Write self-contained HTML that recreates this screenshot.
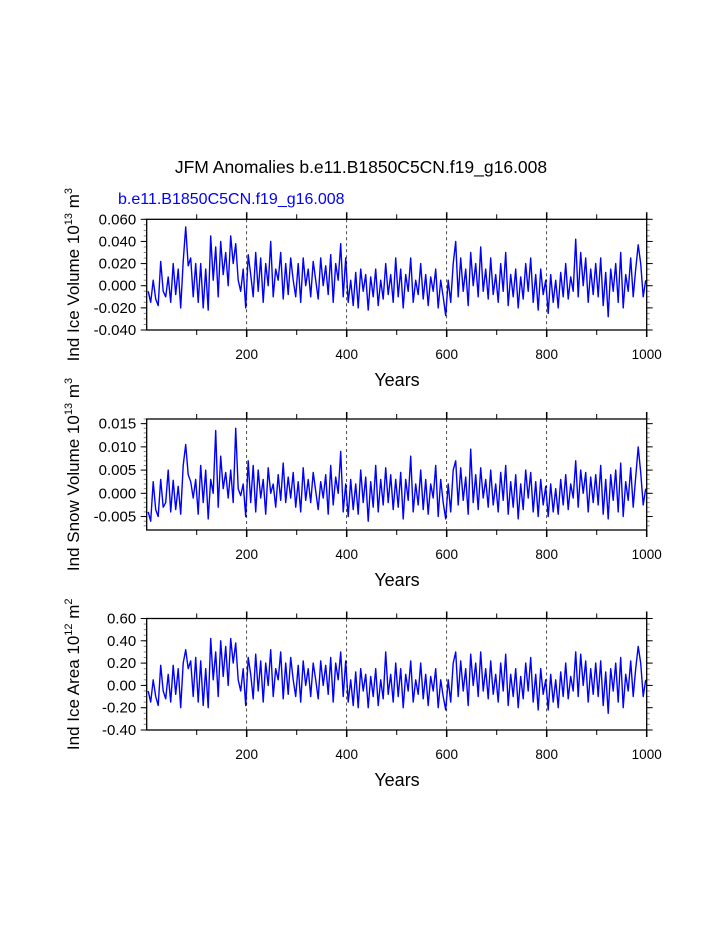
<!DOCTYPE html>
<html><head><meta charset="utf-8"><style>
html,body{margin:0;padding:0;background:#fff;}
svg{display:block;font-family:"Liberation Sans",sans-serif;}
</style></head><body>
<svg id="chart" width="723" height="935" xmlns="http://www.w3.org/2000/svg">
<text x="361" y="173" text-anchor="middle" font-size="17.5">JFM Anomalies b.e11.B1850C5CN.f19_g16.008</text>
<text x="118" y="204" font-size="16" fill="#0000ff">b.e11.B1850C5CN.f19_g16.008</text>
</svg>
<script>
const years = [];
for (let i = 0; i < 200; i++) years.push(3 + i * 5);
const iceVolume = [-5,-15,5,-12,-18,22,-5,-10,8,-15,20,-8,15,-20,22,53,18,25,-10,20,
-15,20,-20,15,-22,45,5,35,-10,40,10,30,0,45,20,38,5,-5,15,-20,
28,10,-10,30,-5,25,-15,20,0,40,-10,15,5,30,-12,20,-8,25,5,-10,
20,-15,25,0,15,-10,22,5,-12,25,0,18,-8,28,-15,20,5,38,-10,25,
-15,5,-18,12,-20,15,-5,10,-22,8,-10,15,-18,5,-12,20,-8,10,-15,25,
-10,15,-20,10,-5,25,-15,5,-8,20,-12,10,-18,8,-5,15,-20,5,-10,-27,
5,-15,20,40,-10,25,-5,15,-18,30,0,20,-10,35,-5,15,-12,25,-8,10,
-15,20,-5,30,-18,10,-10,15,-20,8,-12,20,-5,25,-15,10,-22,15,-8,5,
-25,10,-15,5,-20,12,-10,20,-12,8,-5,42,-10,30,0,25,-15,15,-8,20,
-10,25,-18,12,-28,15,-5,20,-15,30,-20,10,-5,25,-10,15,37,20,-10,5];
const snowVolume = [-40,-60,25,-35,-50,30,-30,-20,50,-40,28,-35,15,-45,60,105,40,25,-10,30,
-45,60,-20,50,-55,30,0,135,-30,80,10,45,-10,50,-20,140,10,-5,20,-50,
70,-20,60,-40,50,-10,30,-45,55,0,20,-30,40,-15,65,-20,35,-10,45,-30,
25,-40,55,-15,30,-20,45,5,-35,25,-10,40,-45,60,-25,35,0,90,-40,20,
-50,30,-35,20,-45,50,-20,35,-60,25,-30,60,-40,30,-25,55,-20,40,-35,30,
-30,45,-55,30,-15,80,-40,20,-25,50,-35,30,-45,20,-10,60,-50,30,-20,-55,
20,-40,50,70,-25,55,-15,35,-45,95,-20,40,-35,55,-10,30,-30,50,-25,20,
-40,45,-15,60,-45,25,-30,40,-55,20,-35,50,-10,45,-40,25,-50,30,-25,15,
-50,20,-40,10,-45,30,-25,40,-35,20,-10,70,-30,50,0,45,-40,35,-20,40,
-25,60,-45,30,-55,40,-15,50,-40,65,-50,25,-15,55,-30,35,100,45,-25,10];
const iceArea = [-5,-15,5,-10,-18,18,-5,-12,10,-15,18,-8,15,-20,20,32,15,22,-10,25,
-15,22,-18,15,-20,42,5,30,-10,40,8,35,0,42,20,38,5,-5,15,-18,
25,10,-12,28,-5,22,-15,20,0,32,-10,15,5,30,-12,20,-8,25,5,-10,
18,-15,22,0,15,-10,20,5,-12,22,0,18,-8,25,-15,20,5,30,-10,22,
-15,5,-18,12,-20,15,-5,10,-20,8,-10,15,-18,5,-12,30,-8,10,-15,20,
-10,15,-20,10,-5,22,-15,5,-8,20,-12,10,-18,8,-5,15,-20,5,-10,-22,
5,-15,20,30,-10,22,-5,15,-18,28,0,20,-10,30,-5,15,-12,22,-8,10,
-15,20,-5,28,-18,10,-10,15,-20,8,-12,20,-5,25,-15,10,-22,15,-8,5,
-22,10,-15,5,-20,12,-10,20,-12,8,-5,30,-10,28,0,22,-15,15,-8,20,
-10,22,-18,12,-25,15,-5,20,-15,25,-20,10,-5,22,-10,15,35,20,-10,5];
const xTickLabels = ["200","400","600","800","1000"];
const xTickValues = [200,400,600,800,1000];
const panel1Ticks = ["-0.040","-0.020","0.000","0.020","0.040","0.060"];
const panel2Ticks = ["-0.005","0.000","0.005","0.010","0.015"];
const panel3Ticks = ["-0.40","-0.20","0.00","0.20","0.40","0.60"];

const NS = "http://www.w3.org/2000/svg";
const svg = document.getElementById("chart");
function mk(tag, attrs, parent) {
  const e = document.createElementNS(NS, tag);
  for (const k in attrs) e.setAttribute(k, attrs[k]);
  (parent || svg).appendChild(e);
  return e;
}
const L = 146.7, R = 646.7;
function xs(v) { return L + (v / 1000) * (R - L); }

function panel(cfg) {
  const g = mk("g", {});
  
  
  const ys = v => cfg.bot - (v - cfg.ymin) / (cfg.ymax - cfg.ymin) * (cfg.bot - cfg.top);
  [200,400,600,800].forEach(v => {
    const gl = mk("line", {x1: xs(v), x2: xs(v), y1: cfg.top, y2: cfg.bot, stroke: "#000", "stroke-width": 0.7, "stroke-dasharray": "3,3"}, g);
    
    
  });
  for (let v = cfg.ymin0; v <= cfg.ymax + 1e-9; v += cfg.minor) {
    const y = ys(v);
    if (y < cfg.top - 0.1 || y > cfg.bot + 0.1) continue;
    mk("line", {x1: L - 3, x2: L, y1: y, y2: y, stroke: "#888", "stroke-width": 1}, g);
    mk("line", {x1: R, x2: R + 3, y1: y, y2: y, stroke: "#888", "stroke-width": 1}, g);
  }
  cfg.labels.forEach(lab => {
    const v = parseFloat(lab), y = ys(v);
    mk("line", {x1: L - 6, x2: L, y1: y, y2: y, stroke: "#000", "stroke-width": 1}, g);
    mk("line", {x1: R, x2: R + 6, y1: y, y2: y, stroke: "#000", "stroke-width": 1}, g);
    const t = mk("text", {x: L - 10.5, y: y + 5, "text-anchor": "end", "font-size": 15}, g);
    t.textContent = lab;
    
    
  });
  for (let v = 100; v <= 1000; v += 100) {
    const big = v % 200 === 0;
    mk("line", {x1: xs(v), x2: xs(v), y1: cfg.top - (big ? 7 : 5), y2: cfg.top, stroke: "#000", "stroke-width": big ? 1.5 : 1}, g);
    mk("line", {x1: xs(v), x2: xs(v), y1: cfg.bot, y2: cfg.bot + (big ? 7 : 5), stroke: "#000", "stroke-width": big ? 1.5 : 1}, g);
  }
  xTickValues.forEach((v, i) => {
    const t = mk("text", {x: xs(v), y: cfg.bot + 29, "text-anchor": "middle", "font-size": 13.5}, g);
    t.textContent = xTickLabels[i];
    
    
  });
  const pts = years.map((yr, i) => xs(yr).toFixed(1) + "," + ys(cfg.values[i] * cfg.scale).toFixed(1)).join(" ");
  const pl = mk("polyline", {points: pts, fill: "none", stroke: "#0000ff", "stroke-width": 1.4, "stroke-linejoin": "round"}, g);
  
  
  const fr = mk("rect", {x: L, y: cfg.top, width: R - L, height: cfg.bot - cfg.top, fill: "none", stroke: "#000", "stroke-width": 1.3}, g);
  
  
  const xt = mk("text", {x: 397, y: cfg.bot + 56, "text-anchor": "middle", "font-size": 18}, g);
  xt.textContent = "Years";
  
  
  const cy = (cfg.top + cfg.bot) / 2;
  const yt = mk("text", {x: 0, y: 0, "text-anchor": "middle", "font-size": 17, transform: "translate(79," + cy + ") rotate(-90)"}, g);
  
  
  yt.innerHTML = cfg.ytitle;
}

panel({name: "ice-volume-panel", top: 219.3, bot: 330, ymin: -0.04, ymax: 0.06, ymin0: -0.04, minor: 0.005, labels: panel1Ticks, values: iceVolume, scale: 0.001,
  ytitle: 'Ind Ice Volume 10<tspan font-size="11" dy="-7">13</tspan><tspan dy="7"> m</tspan><tspan font-size="11" dy="-7">3</tspan>'});
panel({name: "snow-volume-panel", top: 419, bot: 530, ymin: -0.0079, ymax: 0.016, ymin0: -0.007, minor: 0.001, labels: panel2Ticks, values: snowVolume, scale: 0.0001,
  ytitle: 'Ind Snow Volume 10<tspan font-size="11" dy="-7">13</tspan><tspan dy="7"> m</tspan><tspan font-size="11" dy="-7">3</tspan>'});
panel({name: "ice-area-panel", top: 618.5, bot: 730, ymin: -0.4, ymax: 0.6, ymin0: -0.4, minor: 0.05, labels: panel3Ticks, values: iceArea, scale: 0.01,
  ytitle: 'Ind Ice Area 10<tspan font-size="11" dy="-7">12</tspan><tspan dy="7"> m</tspan><tspan font-size="11" dy="-7">2</tspan>'});
</script>
</body></html>
